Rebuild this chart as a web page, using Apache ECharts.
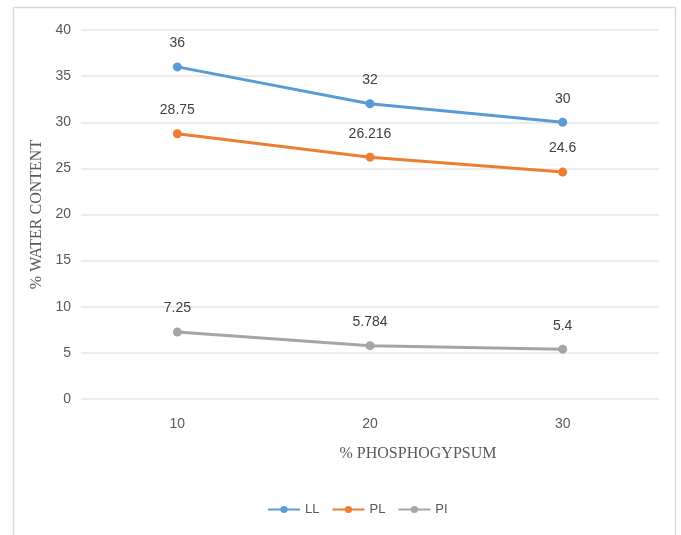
<!DOCTYPE html>
<html>
<head>
<meta charset="utf-8">
<script src="https://cdn.jsdelivr.net/npm/echarts@6/dist/echarts.min.js"></script>
<style>
  html, body { margin: 0; padding: 0; background: #fff; }
  #chart { width: 681px; height: 535px; }
</style>
</head>
<body>
<div id="chart"></div>
<script>
// Phosphogypsum content (%) on the x axis
const categories = ['10', '20', '30'];
// Atterberg limits, % water content
const llValues = [36, 32, 30];
const plValues = [28.75, 26.216, 24.6];
const piValues = [7.25, 5.784, 5.4];
const seriesNames = ['LL', 'PL', 'PI'];
const seriesColors = ['#5B9BD5', '#ED7D31', '#A5A5A5'];

const numFont = 'Liberation Sans Narrow, Arial Narrow, Liberation Sans, sans-serif';
const serifFont = 'Liberation Serif, Times New Roman, serif';

function lineSeries(name, data, color) {
  return {
    name: name,
    type: 'line',
    data: data,
    symbol: 'circle',
    symbolSize: 9,
    lineStyle: { width: 3, color: color },
    itemStyle: { color: color },
    label: {
      show: true,
      position: 'top',
      distance: 12,
      color: '#404040',
      fontFamily: numFont,
      fontSize: 14
    }
  };
}

const chart = echarts.init(document.getElementById('chart'), null, { renderer: 'canvas' });
chart.setOption({
  backgroundColor: '#ffffff',
  animation: false,
  graphic: [{
    type: 'rect',
    shape: { x: 13.5, y: 7.5, width: 662, height: 540 },
    style: { fill: 'none', stroke: '#d9d9d9', lineWidth: 1.5 },
    z: -1
  }],
  grid: { left: 81, right: 22, top: 30, bottom: 136, containLabel: false },
  legend: {
    data: seriesNames,
    bottom: 14,
    left: 262,
    itemWidth: 32,
    itemHeight: 9,
    itemGap: 12,
    textStyle: { color: '#595959', fontFamily: numFont, fontSize: 13 }
  },
  xAxis: {
    type: 'category',
    data: categories,
    boundaryGap: true,
    name: '% PHOSPHOGYPSUM',
    nameLocation: 'middle',
    nameGap: 47,
    nameTextStyle: { color: '#595959', fontFamily: serifFont, fontSize: 16, padding: [0, 0, 0, 96] },
    axisLine: { show: false },
    axisTick: { show: false },
    axisLabel: { color: '#595959', fontFamily: numFont, fontSize: 14, margin: 18 }
  },
  yAxis: {
    type: 'value',
    min: 0,
    max: 40,
    interval: 5,
    name: '% WATER CONTENT',
    nameLocation: 'middle',
    nameGap: 32,
    nameTextStyle: { color: '#595959', fontFamily: serifFont, fontSize: 16 },
    axisLine: { show: false },
    axisTick: { show: false },
    axisLabel: { color: '#595959', fontFamily: numFont, fontSize: 14, margin: 10 },
    splitLine: { lineStyle: { color: '#e6e6e6', width: 1.5 } }
  },
  series: [
    lineSeries(seriesNames[0], llValues, seriesColors[0]),
    lineSeries(seriesNames[1], plValues, seriesColors[1]),
    lineSeries(seriesNames[2], piValues, seriesColors[2])
  ]
});
</script>
</body>
</html>
